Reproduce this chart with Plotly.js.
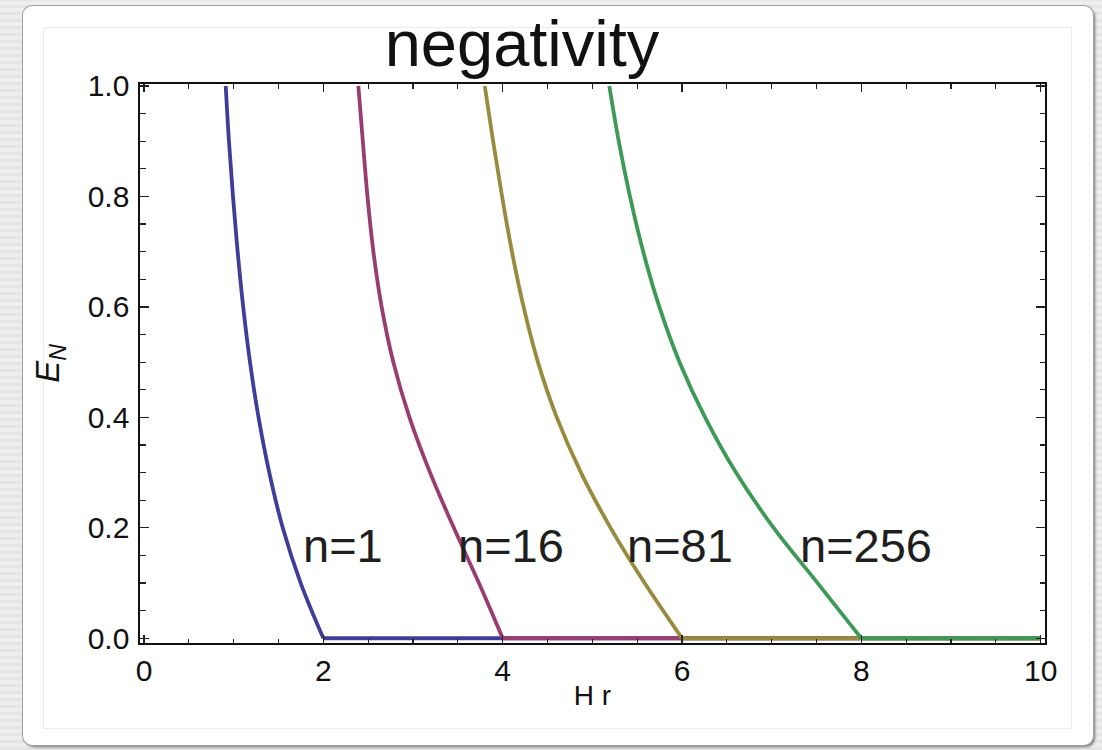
<!DOCTYPE html>
<html>
<head>
<meta charset="utf-8">
<script src="https://cdn.plot.ly/plotly-3.0.1.min.js"></script>
<style>
  html, body { margin: 0; padding: 0; }
  body {
    width: 1102px; height: 750px; overflow: hidden; position: relative;
    background: repeating-linear-gradient(0deg, #e5e5e5 0px, #e5e5e5 3px, #eeeeee 3px, #eeeeee 7px);
  }
  #card {
    position: absolute; left: 23px; top: 6px; width: 1070px; height: 739px;
    background: #ffffff; border-radius: 9px;
    box-shadow: 0 0 0 1px #a0a0a0, 2px 2px 3px rgba(0,0,0,0.5);
  }
  #inner {
    position: absolute; left: 43px; top: 27px; width: 1029px; height: 702px;
    border: 1px solid #ebebeb; box-sizing: border-box;
  }
  #chart { position: absolute; left: 0; top: 0; width: 1102px; height: 750px; }
</style>
</head>
<body>
<div id="card"></div>
<div id="inner"></div>
<div id="chart"></div>
<script>
// Logarithmic negativity E_N versus H r for four values of n.
// Each curve falls to zero at its cut-off and stays at zero afterwards.
const enLevels = [1.0, 0.9, 0.8, 0.7, 0.6, 0.5, 0.4, 0.3, 0.2, 0.1, 0.0];

const hrN1   = [0.911, 0.947, 0.992, 1.044, 1.106, 1.182, 1.277, 1.397, 1.547, 1.747, 2.0];
const hrN16  = [2.390, 2.440, 2.492, 2.558, 2.650, 2.780, 2.960, 3.190, 3.455, 3.735, 4.0];
const hrN81  = [3.800, 3.893, 3.993, 4.103, 4.233, 4.393, 4.603, 4.873, 5.203, 5.583, 6.0];
const hrN256 = [5.189, 5.294, 5.419, 5.567, 5.747, 5.972, 6.257, 6.602, 7.022, 7.512, 8.0];

// Flat tail of each curve: zero from the cut-off up to the end of the axis
const cutoffs = [2, 4, 6, 8];
const hrEnd = 10;

const seriesNames = ['n=1', 'n=16', 'n=81', 'n=256'];
const seriesColors = ['#3f3d99', '#993d71', '#998b3d', '#3d9956'];
const labelX = [2.22, 4.09, 5.98, 8.05];
const labelY = [0.168, 0.168, 0.168, 0.168];

const xTicks = [0, 2, 4, 6, 8, 10];
const yTicks = [0.0, 0.2, 0.4, 0.6, 0.8, 1.0];

const curvesX = [hrN1, hrN16, hrN81, hrN256];

const traces = [];
for (let i = 0; i < 4; i++) {
  traces.push({
    x: curvesX[i], y: enLevels, type: 'scatter', mode: 'lines',
    line: { color: seriesColors[i], width: 3.8, shape: 'spline', smoothing: 1 },
    name: seriesNames[i], showlegend: false, hoverinfo: 'skip'
  });
  traces.push({
    x: [cutoffs[i], hrEnd], y: [0, 0], type: 'scatter', mode: 'lines',
    line: { color: seriesColors[i], width: 4 },
    showlegend: false, hoverinfo: 'skip'
  });
}

const font = 'Liberation Sans, Arial, Helvetica, sans-serif';

const annotations = seriesNames.map((t, i) => ({
  x: labelX[i], y: labelY[i], xref: 'x', yref: 'y', text: t, showarrow: false,
  font: { family: font, size: 47, color: '#1e1e1e' }, xanchor: 'center', yanchor: 'middle'
}));

const axisCommon = {
  showgrid: false, zeroline: false, showline: true, linecolor: '#111', linewidth: 1.6,
  mirror: 'ticks', ticks: 'inside', tickcolor: '#222', tickwidth: 1.3,
  tickfont: { family: font, size: 30, color: '#111' }, fixedrange: true
};

const layout = {
  width: 1102, height: 750,
  margin: { l: 140, r: 57, t: 84, b: 107 },
  paper_bgcolor: 'rgba(0,0,0,0)', plot_bgcolor: 'rgba(0,0,0,0)',
  title: {
    text: 'negativity', x: 522 / 1102, xanchor: 'center', xref: 'container',
    y: 1 - 43 / 750, yanchor: 'middle', yref: 'container',
    font: { family: font, size: 65, color: '#111' }
  },
  xaxis: Object.assign({}, axisCommon, {
    range: [-0.045, 10.048], tickvals: xTicks, ticklen: 8, ticklabelstandoff: 0,
    minor: { dtick: 0.5, tick0: 0, ticks: 'inside', ticklen: 4.5, tickcolor: '#222', tickwidth: 1.2, showgrid: false },
    title: { text: 'H r', standoff: 0, font: { family: font, size: 28, color: '#111' } }
  }),
  yaxis: Object.assign({}, axisCommon, {
    range: [-0.0085, 1.0036], tickvals: yTicks, tickformat: '.1f', ticklen: 9, ticklabelstandoff: 3,
    minor: { dtick: 0.05, tick0: 0, ticks: 'inside', ticklen: 5.5, tickcolor: '#222', tickwidth: 1.2, showgrid: false },
    title: { text: '<i>E<sub>N</sub></i>', standoff: 18, font: { family: font, size: 33, color: '#111' } }
  }),
  annotations: annotations,
  showlegend: false
};

Plotly.newPlot('chart', traces, layout, { displayModeBar: false, staticPlot: true });
</script>
</body>
</html>
